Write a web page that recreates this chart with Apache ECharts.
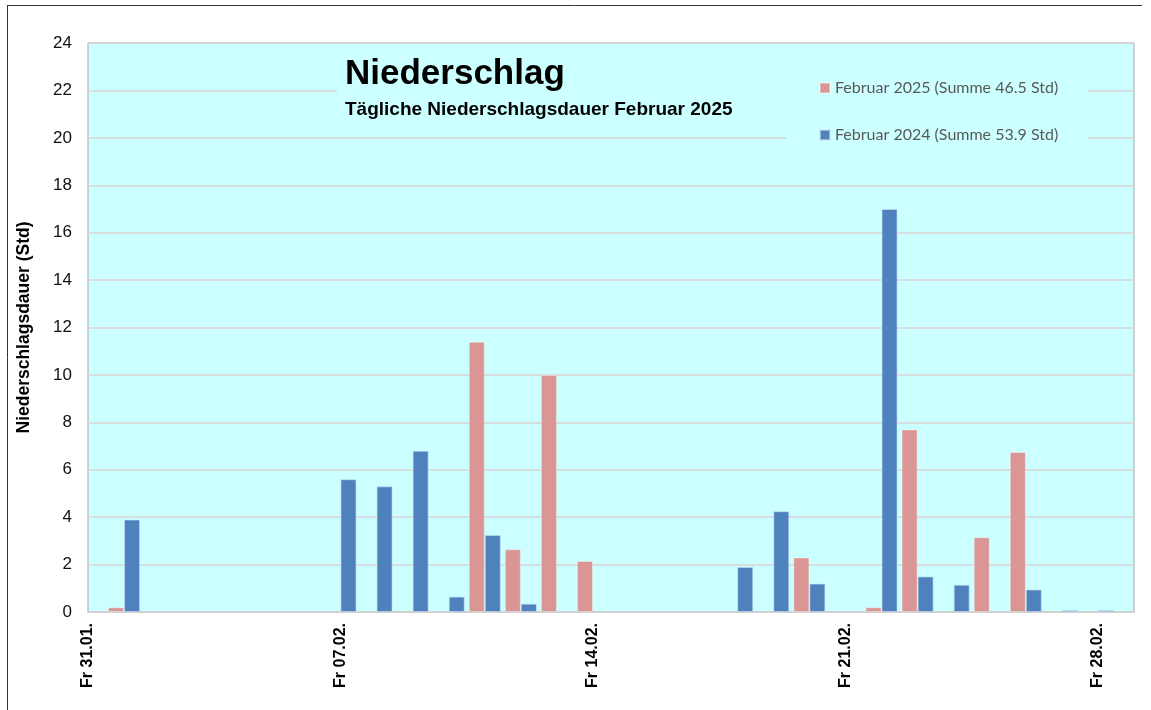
<!DOCTYPE html>
<html>
<head>
<meta charset="utf-8">
<script src="https://cdn.jsdelivr.net/npm/echarts@6/dist/echarts.min.js"></script>
<style>
html,body{margin:0;padding:0;background:#fff;}
#chart{width:1151px;height:710px;}
</style>
</head>
<body>
<div id="chart"></div>
<script>
// Categories: days from 31.01. to 01.03. (2025)
const categories = ['Fr 31.01.','Sa 01.02.','So 02.02.','Mo 03.02.','Di 04.02.','Mi 05.02.','Do 06.02.',
  'Fr 07.02.','Sa 08.02.','So 09.02.','Mo 10.02.','Di 11.02.','Mi 12.02.','Do 13.02.',
  'Fr 14.02.','Sa 15.02.','So 16.02.','Mo 17.02.','Di 18.02.','Mi 19.02.','Do 20.02.',
  'Fr 21.02.','Sa 22.02.','So 23.02.','Mo 24.02.','Di 25.02.','Mi 26.02.','Do 27.02.',
  'Fr 28.02.','Sa 01.03.'];
// Daily precipitation duration (hours)
const feb2025 = [0,0.2,0,0,0,0,0,0,0,0,0,11.4,2.65,10.0,2.15,0,0,0,0,0,2.3,0,0.2,7.7,0,3.15,6.75,0,0,0];
const feb2024 = [0,3.9,0,0,0,0,0,5.6,5.3,6.8,0.65,3.25,0.35,0,0,0,0,0,1.9,4.25,1.2,0,17.0,1.5,1.15,0,0.95,0.05,0.05,0];
const seriesNames = ['Februar 2025 (Summe 46.5 Std)','Februar 2024 (Summe 53.9 Std)'];
const titleText = 'Niederschlag';
const subtitleText = 'Tägliche Niederschlagsdauer Februar 2025';
const yAxisName = 'Niederschlagsdauer (Std)';
const yTicks = {min:0, max:24, interval:2};

const toBars = arr => arr.map(v => v === 0 ? null : v);

const chart = echarts.init(document.getElementById('chart'), null, {renderer:'canvas'});
chart.setOption({
  animation:false,
  backgroundColor:'#ffffff',
  textStyle:{fontFamily:'Liberation Sans, Arial, sans-serif'},
  title:{
    text:titleText,
    subtext:subtitleText,
    left:337, top:47,
    padding:[10,60,6,8],
    itemGap:8,
    backgroundColor:'#ccffff',
    textStyle:{fontSize:35,fontWeight:'bold',color:'#000',fontFamily:'Liberation Sans'},
    subtextStyle:{fontSize:19,fontWeight:'bold',color:'#000',fontFamily:'Liberation Sans'}
  },
  legend:{
    orient:'vertical',
    left:786, top:60,
    padding:[20,30,17,33],
    itemWidth:10, itemHeight:10, itemGap:31,
    icon:'rect',
    backgroundColor:'#ccffff',
    textStyle:{fontSize:16,lineHeight:16,color:'#595959',fontFamily:'Lato'},
    data:seriesNames
  },
  grid:{
    left:88, top:43, right:17, bottom:98,
    show:true, backgroundColor:'#ccffff', borderColor:'#a6a6a6', borderWidth:1
  },
  xAxis:{
    type:'category',
    data:categories,
    boundaryGap:false,
    axisLine:{show:true,lineStyle:{color:'#d0d0d0',width:2}},
    axisTick:{show:false},
    splitLine:{show:false},
    axisLabel:{interval:6,rotate:90,margin:11,fontSize:16,fontWeight:'bold',color:'#000',fontFamily:'Liberation Sans'}
  },
  yAxis:{
    type:'value',
    min:yTicks.min, max:yTicks.max, interval:yTicks.interval,
    name:yAxisName,
    nameLocation:'middle',
    nameGap:55,
    nameTextStyle:{fontSize:17.5,fontWeight:'bold',color:'#000',fontFamily:'Liberation Sans'},
    axisLine:{show:false},
    axisTick:{show:false},
    axisLabel:{fontSize:17,margin:16,color:'#111',fontFamily:'Liberation Sans'},
    splitLine:{show:true,lineStyle:{color:'#dad3d6',width:1.5}}
  },
  series:[
    {name:seriesNames[0],type:'bar',data:toBars(feb2025),barWidth:16,barGap:'0%',
     itemStyle:{color:'#d99694',borderColor:'rgba(255,255,255,0.35)',borderWidth:1}},
    {name:seriesNames[1],type:'bar',data:toBars(feb2024),barWidth:16,barGap:'0%',barMinHeight:2,
     itemStyle:{color:'#4f81bd',borderColor:'rgba(200,225,245,0.6)',borderWidth:1}}
  ],
  graphic:[
    {type:'line',shape:{x1:7,y1:5.5,x2:1142,y2:5.5},style:{stroke:'#333',lineWidth:1},silent:true},
    {type:'line',shape:{x1:7.5,y1:5,x2:7.5,y2:710},style:{stroke:'#333',lineWidth:1},silent:true}
  ]
});
</script>
</body>
</html>
